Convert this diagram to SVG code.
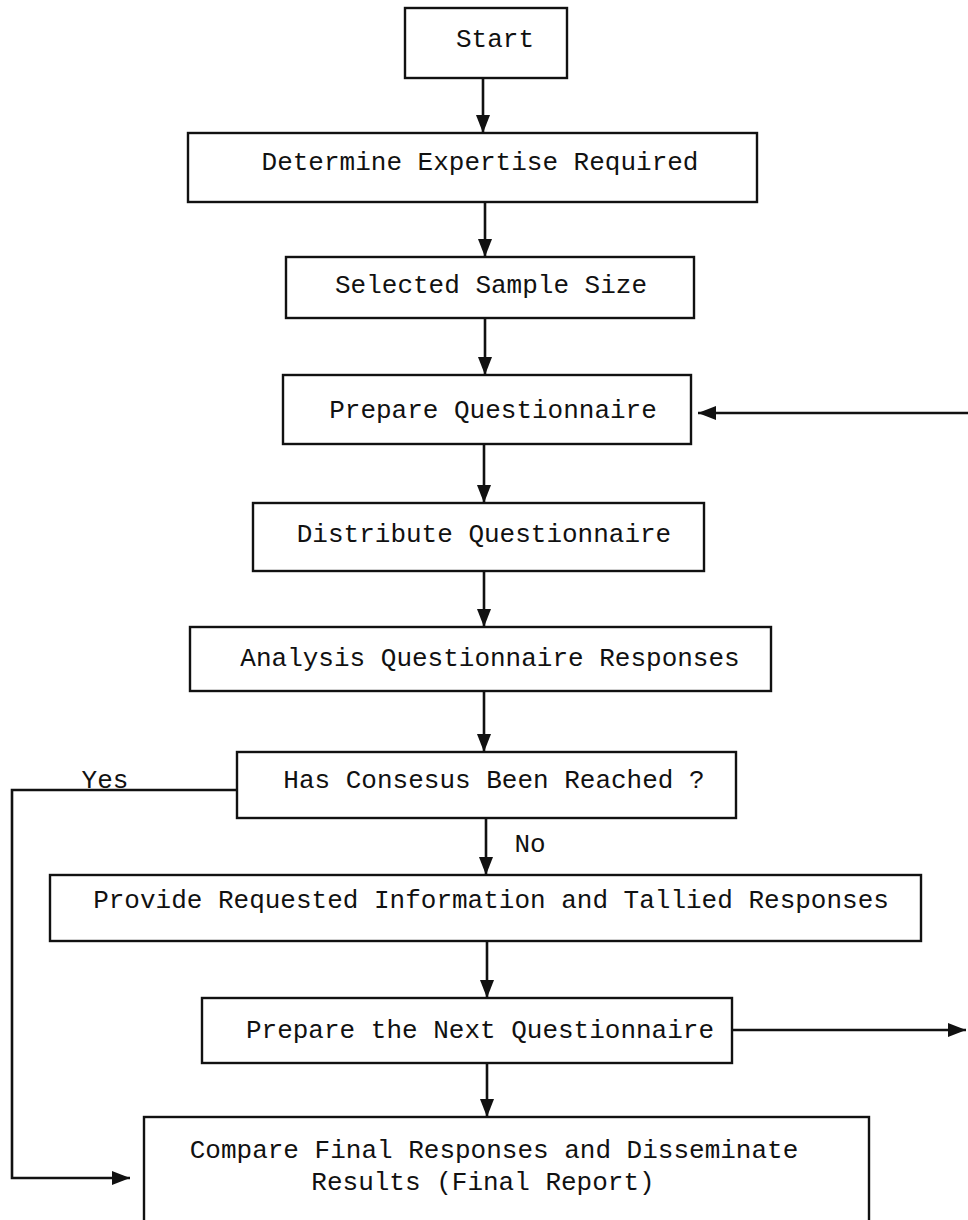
<svg xmlns="http://www.w3.org/2000/svg" width="968" height="1220" viewBox="0 0 968 1220">
<style>
.box{fill:none;stroke:#111;stroke-width:2.4}
.t{font-family:"Liberation Mono","DejaVu Sans Mono",monospace;font-size:26px;fill:#111;text-anchor:middle}
.c{fill:none;stroke:#111;stroke-width:2.6}
</style>
<defs>
<marker id="ah" viewBox="0 0 18 14" markerWidth="18" markerHeight="14" refX="18" refY="7" orient="auto" markerUnits="userSpaceOnUse">
<path d="M0,0 L18,7 L0,14 z" fill="#111"/>
</marker>
</defs>
<rect width="968" height="1220" fill="#fff"/>
<g id="n-start"><rect class="box" x="405" y="8" width="162" height="70"/><text class="t" x="495" y="47">Start</text></g>
<g id="n-determine"><rect class="box" x="188" y="133" width="569" height="69"/><text class="t" x="480" y="170">Determine Expertise Required</text></g>
<g id="n-selected"><rect class="box" x="286" y="257" width="408" height="61"/><text class="t" x="491" y="293">Selected Sample Size</text></g>
<g id="n-prepare"><rect class="box" x="283" y="375" width="408" height="69"/><text class="t" x="493" y="418">Prepare Questionnaire</text></g>
<g id="n-distribute"><rect class="box" x="253" y="503" width="451" height="68"/><text class="t" x="484" y="542">Distribute Questionnaire</text></g>
<g id="n-analysis"><rect class="box" x="190" y="627" width="581" height="64"/><text class="t" x="490" y="666">Analysis Questionnaire Responses</text></g>
<g id="n-consensus"><rect class="box" x="237" y="752" width="499" height="66"/><text class="t" x="494" y="788">Has Consesus Been Reached ?</text></g>
<g id="n-provide"><rect class="box" x="50" y="875" width="871" height="66"/><text class="t" x="491" y="908">Provide Requested Information and Tallied Responses</text></g>
<g id="n-next"><rect class="box" x="202" y="998" width="530" height="65"/><text class="t" x="480" y="1038">Prepare the Next Questionnaire</text></g>
<g id="n-compare"><rect class="box" x="144" y="1117" width="725" height="120"/><text class="t" x="494" y="1158">Compare Final Responses and Disseminate</text><text class="t" x="483" y="1190">Results (Final Report)</text></g>
<g id="connectors">
<line class="c" x1="483" y1="78" x2="483" y2="133" marker-end="url(#ah)"/>
<line class="c" x1="485" y1="202" x2="485" y2="257" marker-end="url(#ah)"/>
<line class="c" x1="485" y1="318" x2="485" y2="375" marker-end="url(#ah)"/>
<line class="c" x1="484" y1="444" x2="484" y2="503" marker-end="url(#ah)"/>
<line class="c" x1="484" y1="571" x2="484" y2="627" marker-end="url(#ah)"/>
<line class="c" x1="484" y1="691" x2="484" y2="752" marker-end="url(#ah)"/>
<line class="c" x1="486" y1="818" x2="486" y2="875" marker-end="url(#ah)"/>
<line class="c" x1="487" y1="941" x2="487" y2="998" marker-end="url(#ah)"/>
<line class="c" x1="487" y1="1063" x2="487" y2="1117" marker-end="url(#ah)"/>
<line class="c" x1="968" y1="413" x2="698" y2="413" marker-end="url(#ah)"/>
<line class="c" x1="732" y1="1030" x2="966" y2="1030" marker-end="url(#ah)"/>
<path class="c" d="M237,790 H12 V1178 H130" marker-end="url(#ah)"/>
<text class="t" x="105" y="788">Yes</text>
<text class="t" x="530" y="852">No</text>
</g>
</svg>
